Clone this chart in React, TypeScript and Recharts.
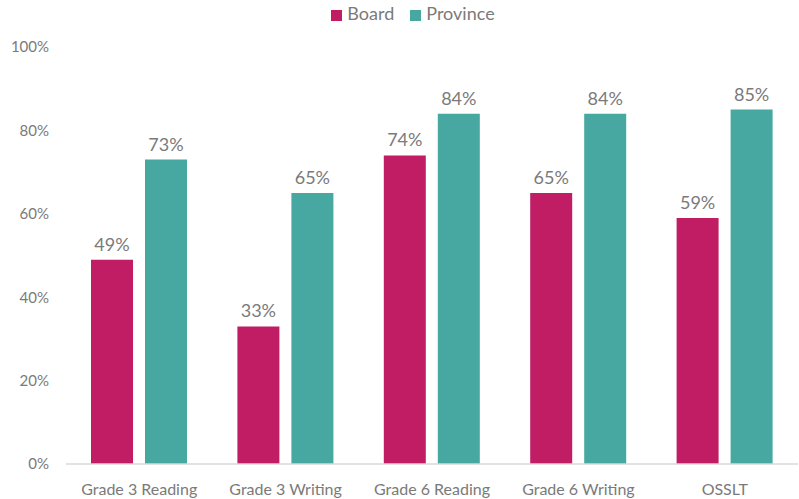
import React from "react";
import {
  BarChart,
  Bar,
  XAxis,
  YAxis,
  Legend,
  LabelList,
} from "recharts";

const categories = [
  "Grade 3 Reading",
  "Grade 3 Writing",
  "Grade 6 Reading",
  "Grade 6 Writing",
  "OSSLT",
];
const boardValues = [49, 33, 74, 65, 59];
const provinceValues = [73, 65, 84, 84, 85];
const yTicks = [0, 20, 40, 60, 80, 100];

const data = categories.map((name, i) => ({
  name,
  Board: boardValues[i],
  Province: provinceValues[i],
}));

const FONT = "Lato, 'Open Sans', sans-serif";
const GRAY = "#7a7a7a";

const App: React.FC = () => {
  return (
    <div style={{ position: "absolute", left: 0, top: 0, width: 799, height: 499 }}>
      <BarChart
        width={799}
        height={499}
        data={data}
        margin={{ top: 25, right: 1, left: 0, bottom: 5 }}
        barGap={12}
        barCategoryGap={25}
      >
        <Legend
          verticalAlign="top"
          align="center"
          iconType="square"
          iconSize={11}
          wrapperStyle={{
            top: 2,
            left: 22,
            fontFamily: FONT,
            fontSize: 18,
            color: GRAY,
          }}
          formatter={(value: string) => (
            <span style={{ color: GRAY, marginLeft: 1, marginRight: 6 }}>{value}</span>
          )}
        />
        <XAxis
          dataKey="name"
          axisLine={{ stroke: "#d9d9d9", strokeWidth: 1.5 }}
          tickLine={false}
          height={30}
          tickMargin={14}
          tick={{ fill: GRAY, fontSize: 16, fontFamily: FONT }}
        />
        <YAxis
          width={66}
          domain={[0, 100]}
          ticks={yTicks}
          axisLine={false}
          tickLine={false}
          tickSize={0}
          tickMargin={17}
          tickFormatter={(v: number) => `${v}%`}
          tick={{ fill: GRAY, fontSize: 15, fontFamily: FONT }}
        />
        <Bar dataKey="Board" fill="#C01D64" isAnimationActive={false}>
          <LabelList
            dataKey="Board"
            position="top"
            offset={9}
            formatter={(v: number) => `${v}%`}
            style={{ fill: GRAY, fontSize: 18, fontFamily: FONT }}
          />
        </Bar>
        <Bar dataKey="Province" fill="#47A8A1" isAnimationActive={false}>
          <LabelList
            dataKey="Province"
            position="top"
            offset={9}
            formatter={(v: number) => `${v}%`}
            style={{ fill: GRAY, fontSize: 18, fontFamily: FONT }}
          />
        </Bar>
      </BarChart>
    </div>
  );
};

export default App;
